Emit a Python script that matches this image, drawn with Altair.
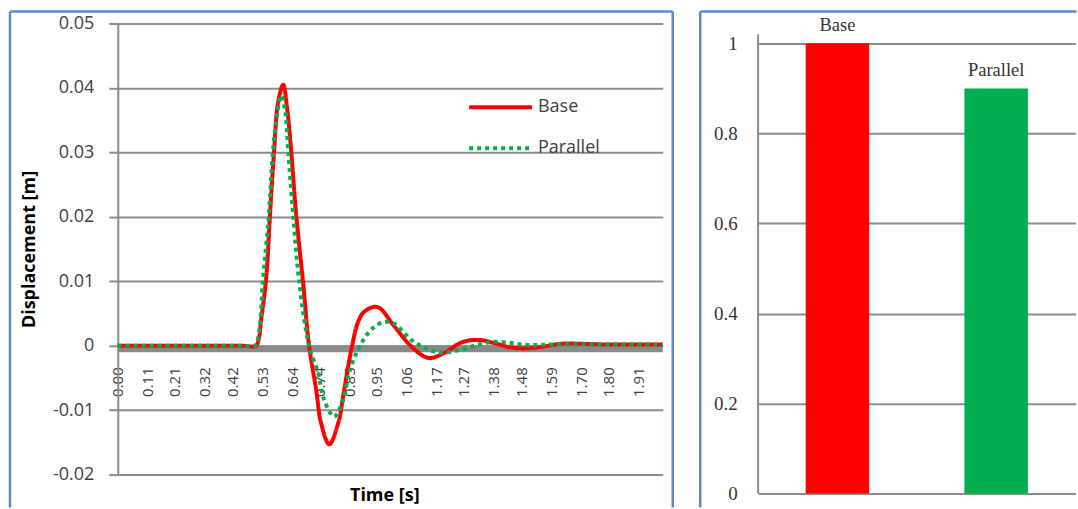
import altair as alt
import pandas as pd

# Displacement response over time [s] -> [m]
base_t = [0.0, 0.45, 0.507, 0.518, 0.526, 0.544, 0.559, 0.574, 0.588, 0.607, 0.621,
          0.636, 0.654, 0.680, 0.702, 0.728, 0.746, 0.776, 0.809, 0.831, 0.860,
          0.882, 0.905, 0.953, 1.015, 1.077, 1.140, 1.199, 1.261, 1.324, 1.382,
          1.445, 1.507, 1.566, 1.629, 1.776, 2.0]
base_d = [0.0, 0.0, 0.0, 0.0012, 0.004, 0.0102, 0.0206, 0.0304, 0.0377, 0.0405, 0.037,
          0.0304, 0.0206, 0.0098, 0.0, -0.0068, -0.012, -0.0153, -0.012, -0.0068, 0.0,
          0.0037, 0.0053, 0.006, 0.003, -0.0001, -0.0019, -0.0011, 0.0005, 0.0009, 0.0004,
          -0.0003, -0.0004, -0.0001, 0.0003, 0.0002, 0.0002]

par_t = [0.0, 0.45, 0.504, 0.518, 0.533, 0.555, 0.570, 0.585, 0.599, 0.614, 0.625,
         0.643, 0.665, 0.702, 0.735, 0.757, 0.794, 0.827, 0.849, 0.875, 0.900, 0.935,
         0.978, 1.015, 1.077, 1.140, 1.188, 1.261, 1.324, 1.382, 1.445, 1.507,
         1.600, 1.800, 2.0]
par_d = [0.0, 0.0, 0.0, 0.002, 0.0102, 0.0206, 0.0304, 0.036, 0.0388, 0.0365, 0.0304,
         0.0206, 0.0102, 0.0, -0.0042, -0.0084, -0.011, -0.0084, -0.0042, -0.0012, 0.0008, 0.0027,
         0.0037, 0.0034, 0.0009, -0.0006, -0.0011, -0.0006, 0.0002, 0.0006, 0.0004, 0.0001,
         0.0002, 0.0002, 0.0002]

series_names = ["Base", "Parallel"]
series_colors = ["#ff0000", "#00b050"]

time_labels = ["0.00", "0.11", "0.21", "0.32", "0.42", "0.53", "0.64", "0.74", "0.85",
               "0.95", "1.06", "1.17", "1.27", "1.38", "1.48", "1.59", "1.70", "1.80", "1.91"]
disp_ticks = [-0.02, -0.01, 0.0, 0.01, 0.02, 0.03, 0.04, 0.05]

# Normalised peak displacement per case
ratio_cases = ["Base", "Parallel"]
ratio_values = [1.0, 0.9]
ratio_ticks = [0, 0.2, 0.4, 0.6, 0.8, 1]

GRID = "#8c8c8c"
BORDER = "#5b8bc9"
SANS = "Open Sans"
SERIF = "Liberation Serif"

lines = pd.concat([
    pd.DataFrame({"t": base_t, "d": base_d, "series": series_names[0]}),
    pd.DataFrame({"t": par_t, "d": par_d, "series": series_names[1]}),
], ignore_index=True)

one = pd.DataFrame({"v": [0.0]})

W1, H1 = 546, 452
x_scale = alt.Scale(domain=[0, 2.0], nice=False, zero=False)
y_scale = alt.Scale(domain=[-0.02, 0.05], nice=False)

legend = alt.Legend(
    orient="none", legendX=352, legendY=75, title=None, padding=0,
    symbolType="M-1.5,0H9", symbolSize=144, symbolStrokeWidth=4,
    labelOffset=51, rowPadding=23, labelFont=SANS, labelFontSize=18,
    labelColor="#404040",
)

zero_band = alt.Chart(one).mark_rule(color="#8a8a8a", strokeWidth=7, yOffset=3).encode(
    y=alt.Y("v:Q", scale=y_scale)
)

curves = alt.Chart(lines).mark_line(interpolate="catmull-rom", strokeWidth=4, strokeCap="butt").encode(
    x=alt.X("t:Q", scale=x_scale, title="Time [s]",
            axis=alt.Axis(values=[float(s) for s in time_labels],
                          labelExpr="format(datum.value, '.2f')",
                          labelAngle=270, labelFont=SANS, labelFontSize=15,
                          labelColor="#404040", labelPadding=16, labelOverlap=False,
                          labelFlush=False, ticks=False, tickSize=0, domain=False,
                          grid=False, offset=-124,
                          titleFont=SANS, titleFontSize=18, titleFontWeight="bold",
                          titleColor="#000000", titleX=267, titleY=150,
                          titleAlign="center", titleBaseline="alphabetic")),
    y=alt.Y("d:Q", scale=y_scale, title="Displacement [m]",
            axis=alt.Axis(values=disp_ticks,
                          labelExpr="datum.value == 0 ? '0' : (datum.value < 0 ? '-' : '') + format(abs(datum.value), '.2f')",
                          labelFont=SANS, labelFontSize=18, labelColor="#404040",
                          labelPadding=15, tickSize=9, tickColor=GRID, tickWidth=2,
                          domainColor=GRID, domainWidth=2,
                          grid=True, gridColor=GRID, gridWidth=2,
                          titleFont=SANS, titleFontSize=18, titleFontWeight="bold",
                          titleColor="#000000", titleAngle=270, titleX=-88, titleY=226,
                          titleAlign="center", titleBaseline="middle")),
    color=alt.Color("series:N", scale=alt.Scale(domain=series_names, range=series_colors),
                    legend=legend),
    strokeDash=alt.StrokeDash("series:N", scale=alt.Scale(domain=series_names, range=[[1, 0], [4, 4]]),
                              legend=legend),
)

left_frame = [
    alt.Chart(one).mark_rule(color=BORDER, strokeWidth=2.5).encode(
        x=alt.value(-108), y=alt.value(-12), y2=alt.value(485)),
    alt.Chart(one).mark_rule(color=BORDER, strokeWidth=2.5).encode(
        x=alt.value(-108), x2=alt.value(556), y=alt.value(-12)),
    alt.Chart(one).mark_rule(color=BORDER, strokeWidth=2.5).encode(
        x=alt.value(556), y=alt.value(-12), y2=alt.value(485)),
]

left = alt.layer(zero_band, curves, *left_frame).properties(width=W1, height=H1)

# Right panel: bar comparison
W2, H2 = 318, 471
ratios = pd.DataFrame({"case": ratio_cases, "ratio": ratio_values})
r_scale = alt.Scale(domain=[0, 1.0443], nice=False)
c_scale = alt.Scale(domain=ratio_cases, paddingInner=0.6, paddingOuter=0.3)

bars = alt.Chart(ratios).mark_bar().encode(
    x=alt.X("case:N", scale=c_scale, axis=None),
    y=alt.Y("ratio:Q", scale=r_scale, title=None,
            axis=alt.Axis(values=ratio_ticks, format="~g", labelFont=SERIF,
                          labelFontSize=19, labelColor="#333333", labelPadding=21,
                          ticks=False, tickSize=0, domain=False,
                          grid=True, gridColor=GRID, gridWidth=2)),
    color=alt.Color("case:N", scale=alt.Scale(domain=ratio_cases, range=series_colors),
                    legend=None),
)

bar_text = alt.Chart(ratios).mark_text(dy=-12, baseline="alphabetic", font=SERIF,
                                       fontSize=18.5, color="#333333").encode(
    x=alt.X("case:N", scale=c_scale),
    y=alt.Y("ratio:Q", scale=r_scale),
    text="case:N",
)

axis_line = alt.Chart(one).mark_rule(color=GRID, strokeWidth=2).encode(
    x=alt.value(0), y=alt.datum(0), y2=alt.datum(1.02)
)

right_frame = [
    alt.Chart(one).mark_rule(color=BORDER, strokeWidth=2.5).encode(
        x=alt.value(-58), y=alt.value(-12), y2=alt.value(485)),
    alt.Chart(one).mark_rule(color=BORDER, strokeWidth=2.5).encode(
        x=alt.value(-58), x2=alt.value(319), y=alt.value(-12)),
]

right = alt.layer(bars, bar_text, axis_line, *right_frame).properties(width=W2, height=H2)

chart = alt.hconcat(left, right, spacing=23.5).resolve_scale(
    color="independent", strokeDash="independent"
).resolve_legend(color="independent", strokeDash="independent").properties(
    padding={"left": 8, "top": 9, "right": 0, "bottom": 0},
    background="white",
).configure_view(stroke=None)

chart.save("out.html", embed_options={"renderer": "svg", "actions": False})
